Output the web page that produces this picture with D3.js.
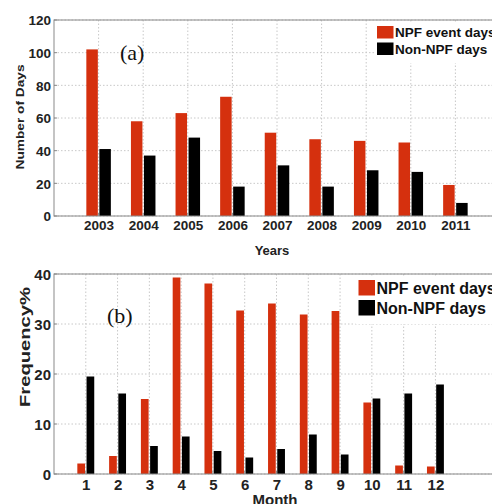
<!DOCTYPE html>
<html>
<head>
<meta charset="utf-8">
<script src="https://cdn.jsdelivr.net/npm/d3@7"></script>
<style>
  body { margin: 0; background: #fff; }
  svg { display: block; }
  text { font-family: "Liberation Sans", Arial, sans-serif; font-weight: bold; fill: #222; }
</style>
</head>
<body>
<svg id="chart" width="492" height="504"></svg>
<script>
// panel (a): yearly counts
const years = [2003, 2004, 2005, 2006, 2007, 2008, 2009, 2010, 2011];
const npfDays = [102, 58, 63, 73, 51, 47, 46, 45, 19];
const nonNpfDays = [41, 37, 48, 18, 31, 18, 28, 27, 8];
const daysTicks = [0, 20, 40, 60, 80, 100, 120];

// panel (b): monthly frequency %
const months = [1, 2, 3, 4, 5, 6, 7, 8, 9, 10, 11, 12];
const npfFreq = [2.1, 3.6, 15.0, 39.3, 38.1, 32.7, 34.1, 31.9, 32.6, 14.3, 1.7, 1.5];
const nonNpfFreq = [19.5, 16.1, 5.6, 7.5, 4.6, 3.3, 5.0, 7.9, 3.9, 15.1, 16.1, 17.9];
const freqTicks = [0, 10, 20, 30, 40];

const seriesNames = ["NPF event days", "Non-NPF days"];
const red = "#d5300e";

const svg = d3.select("#chart");

function panel(opt) {
  const g = svg.append("g");
  const x = d3.scaleLinear().domain(opt.xDomain).range([opt.left, opt.right]);
  const y = d3.scaleLinear().domain(opt.yDomain).range([opt.bottom, opt.top]);

  // dotted grid
  g.selectAll(".gx").data(opt.cats).enter().append("line")
    .attr("x1", d => x(d)).attr("x2", d => x(d))
    .attr("y1", opt.top).attr("y2", opt.bottom)
    .attr("stroke", "#c8c8c8").attr("stroke-dasharray", "1.5,2");
  g.selectAll(".gy").data(opt.yTicks).enter().append("line")
    .attr("x1", opt.left).attr("x2", opt.right)
    .attr("y1", d => y(d)).attr("y2", d => y(d))
    .attr("stroke", "#c8c8c8").attr("stroke-dasharray", "1.5,2");

  // bars
  const bw = opt.barW, off = opt.barOff;
  g.selectAll(".r").data(opt.a).enter().append("rect")
    .attr("x", (d, i) => x(opt.cats[i] - off) - bw / 2)
    .attr("width", bw)
    .attr("y", d => y(d)).attr("height", d => y(0) - y(d))
    .attr("fill", red);
  g.selectAll(".k").data(opt.b).enter().append("rect")
    .attr("x", (d, i) => x(opt.cats[i] + off) - bw / 2)
    .attr("width", bw)
    .attr("y", d => y(d)).attr("height", d => y(0) - y(d))
    .attr("fill", "#000");

  // legend
  const lg = g.append("g");
  lg.append("rect").attr("x", opt.legX - 3).attr("y", opt.legY - 4)
    .attr("width", 140).attr("height", opt.legH * 2 + 8).attr("fill", "#fff");
  seriesNames.forEach((name, i) => {
    const yy = opt.legY + i * opt.legH;
    lg.append("rect").attr("x", opt.legX).attr("y", yy)
      .attr("width", opt.swW).attr("height", opt.swH)
      .attr("fill", i === 0 ? red : "#000");
    lg.append("text").attr("x", opt.legX + opt.swW + 1.5).attr("y", yy + opt.swH - 1.5)
      .attr("font-size", opt.legFont).style("fill", "#111").text(name);
  });

  // axes box
  g.append("rect").attr("x", opt.left).attr("y", opt.top)
    .attr("width", opt.right - opt.left).attr("height", opt.bottom - opt.top)
    .attr("fill", "none").attr("stroke", "#8a8a8a").attr("stroke-width", 1);

  const yAxis = d3.axisLeft(y).tickValues(opt.yTicks).tickSize(0).tickPadding(3);
  const ya = g.append("g").attr("transform", `translate(${opt.left},0)`).call(yAxis);
  ya.select(".domain").remove();
  ya.selectAll("text").attr("font-size", opt.tickFont).attr("font-family", null)
    .style("fill", "#222").attr("dy", "0.36em");

  const xAxis = d3.axisBottom(x).tickValues(opt.cats).tickSize(0).tickFormat(d3.format("d"));
  const xa = g.append("g").attr("transform", `translate(0,${opt.bottom})`).call(xAxis);
  xa.select(".domain").remove();
  xa.selectAll("text").attr("font-size", opt.tickFont).attr("font-family", null)
    .style("fill", "#222").attr("y", opt.xTickBase - opt.bottom).attr("dy", null);

  // inward tick marks
  g.selectAll(".ty").data(opt.yTicks).enter().append("line")
    .attr("x1", opt.left).attr("x2", opt.left + 3)
    .attr("y1", d => y(d)).attr("y2", d => y(d)).attr("stroke", "#8a8a8a");
  g.selectAll(".tx").data(opt.cats).enter().append("line")
    .attr("x1", d => x(d)).attr("x2", d => x(d))
    .attr("y1", opt.bottom).attr("y2", opt.bottom - 3).attr("stroke", "#8a8a8a");

  // titles
  g.append("text").attr("x", opt.xLabX).attr("y", opt.xLabY)
    .attr("text-anchor", "middle").attr("font-size", opt.xLabFont).text(opt.xLabel);
  g.append("text")
    .attr("transform", `translate(${opt.yLabX},${opt.yLabY}) rotate(-90)`)
    .attr("text-anchor", "middle").attr("font-size", opt.yLabFont)
    .attr("textLength", opt.yLabLen).attr("lengthAdjust", "spacingAndGlyphs")
    .text(opt.yLabel);
  g.append("text").attr("x", opt.tagX).attr("y", opt.tagY)
    .style("font-family", "'Liberation Serif', 'Times New Roman', serif")
    .style("font-weight", "normal").style("fill", "#111")
    .attr("font-size", 22).text(opt.tag);
}

panel({
  cats: years, a: npfDays, b: nonNpfDays, yTicks: daysTicks,
  xDomain: [2002, 2012], yDomain: [0, 120],
  left: 54, right: 500, top: 20, bottom: 216,
  barW: 11.5, barOff: 0.146,
  legX: 377, legY: 26, legH: 16.5, swW: 16.5, swH: 12.5, legFont: 13.5,
  tickFont: 13.5, xTickBase: 230,
  xLabel: "Years", xLabX: 272, xLabY: 255, xLabFont: 13,
  yLabel: "Number of Days", yLabX: 24, yLabY: 117, yLabFont: 11.5, yLabLen: 105,
  tag: "(a)", tagX: 120, tagY: 60
});

panel({
  cats: months, a: npfFreq, b: nonNpfFreq, yTicks: freqTicks,
  xDomain: [0, 14], yDomain: [0, 40],
  left: 54, right: 499, top: 274, bottom: 474,
  barW: 7.7, barOff: 0.145,
  legX: 358.5, legY: 280, legH: 20, swW: 16.5, swH: 15.5, legFont: 16,
  tickFont: 15, xTickBase: 490,
  xLabel: "Month", xLabX: 275, xLabY: 505, xLabFont: 15,
  yLabel: "Frequency%", yLabX: 30, yLabY: 347, yLabFont: 14, yLabLen: 120,
  tag: "(b)", tagX: 107, tagY: 323
});
</script>
</body>
</html>
